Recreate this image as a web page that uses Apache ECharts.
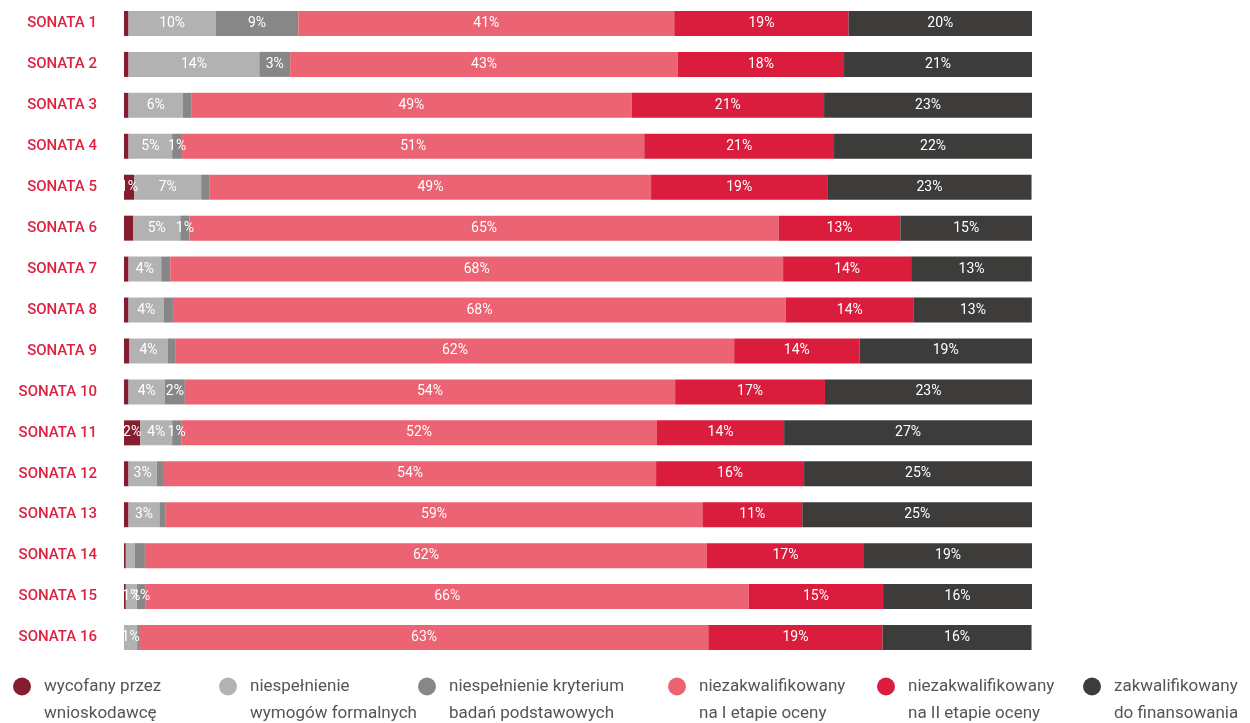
<!DOCTYPE html>
<html>
<head>
<meta charset="utf-8">
<script src="https://cdn.jsdelivr.net/npm/echarts@6/dist/echarts.min.js"></script>
<style>
  html, body { margin: 0; padding: 0; background: #fff; }
  #chart { width: 1250px; height: 723px; }
</style>
</head>
<body>
<div id="chart"></div>
<script>
const categories = ['SONATA 1', 'SONATA 2', 'SONATA 3', 'SONATA 4', 'SONATA 5', 'SONATA 6', 'SONATA 7', 'SONATA 8',
  'SONATA 9', 'SONATA 10', 'SONATA 11', 'SONATA 12', 'SONATA 13', 'SONATA 14', 'SONATA 15', 'SONATA 16']

const seriesNames = [
  'wycofany przez\nwnioskodawcę',
  'niespełnienie\nwymogów formalnych',
  'niespełnienie kryterium\nbadań podstawowych',
  'niezakwalifikowany\nna I etapie oceny',
  'niezakwalifikowany\nna II etapie oceny',
  'zakwalifikowany\ndo finansowania'
]

// percent shares per edition, top to bottom
const withdrawn = [0.5, 0.5, 0.5, 0.5, 1.1, 1, 0.5, 0.5, 0.6, 0.5, 1.8, 0.5, 0.5, 0.2, 0.2, 0]
const formalReq = [9.6, 14.4, 6, 4.8, 7.4, 5.2, 3.6, 3.9, 4.2, 4, 3.5, 3.1, 3.4, 1, 1.2, 1.45]
const basicResearch = [9.1, 3.4, 0.9, 1.1, 0.95, 1, 0.99, 0.99, 0.9, 2.2, 1, 0.8, 0.7, 1.1, 1, 0.3]
const stage1 = [41.4, 42.7, 48.5, 50.9, 48.6, 64.9, 67.5, 67.5, 61.5, 54, 52.4, 54.2, 59.1, 61.9, 66.4, 62.6]
const stage2 = [19.2, 18.3, 21.2, 20.9, 19.4, 13.4, 14.1, 14.1, 13.8, 16.5, 14, 16.3, 11, 17.3, 14.8, 19.2]
const funded = [20.2, 20.7, 22.9, 21.8, 22.5, 14.5, 13.3, 13.0, 19, 22.8, 27.3, 25.1, 25.3, 18.5, 16.4, 16.4]

// segments drawn without a percent label: [series, row]
const hiddenLabels = [[0, 5], [1, 13], [2, 13]]

const colors = ['#861c2f', '#b2b2b2', '#878787', '#ec6373', '#db1d3d', '#3d3c3b']
const legendLeft = [13, 219, 418, 668, 877, 1083]

const seriesData = [withdrawn, formalReq, basicResearch, stage1, stage2, funded]
const isHidden = (s, i) => hiddenLabels.some(h => h[0] === s && h[1] === i)

const chart = echarts.init(document.getElementById('chart'))

const option = {
  animation: false,
  textStyle: { fontFamily: 'Roboto' },
  grid: { left: 124, right: 218, top: 3, bottom: 65 },
  xAxis: { type: 'value', min: 0, max: 100, show: false },
  yAxis: {
    type: 'category',
    data: categories,
    inverse: true,
    axisLine: { show: false },
    axisTick: { show: false },
    axisLabel: { color: '#dc2240', fontSize: 15, fontWeight: 500, margin: 27 }
  },
  // one legend per item so the columns sit where the original has them;
  // leading blank line keeps the dot level with the first text line
  legend: seriesNames.map((name, s) => ({
    data: [name],
    left: legendLeft[s],
    top: 646,
    padding: 0,
    icon: 'circle',
    itemWidth: 18,
    itemHeight: 18,
    selectedMode: false,
    formatter: n => '\n' + n,
    textStyle: { color: '#555', fontSize: 17, lineHeight: 27, padding: [0, 0, 0, 8] }
  })),
  series: seriesNames.map((name, s) => ({
    name,
    type: 'bar',
    stack: 'total',
    barWidth: 25,
    itemStyle: { color: colors[s] },
    label: {
      show: true,
      position: 'inside',
      color: '#fff',
      fontSize: 14,
      formatter: p => Math.round(p.value) + '%'
    },
    data: seriesData[s].map((v, i) => (v < 1 || isHidden(s, i)) ? { value: v, label: { show: false } } : v)
  }))
}

chart.setOption(option)
</script>
</body>
</html>
